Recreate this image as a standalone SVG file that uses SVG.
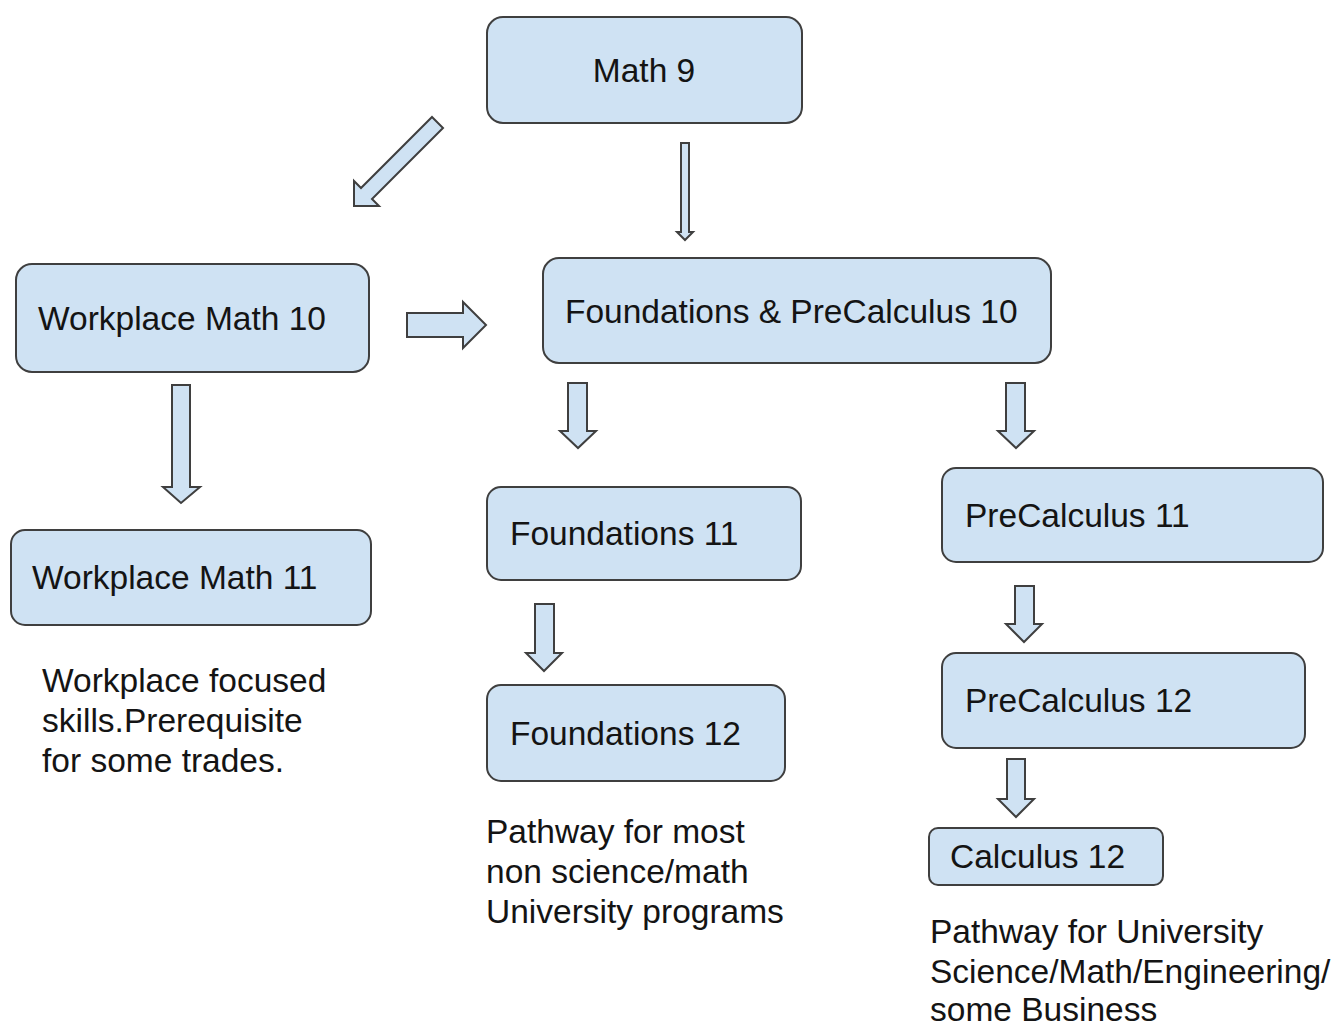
<svg xmlns="http://www.w3.org/2000/svg" width="1338" height="1025" viewBox="0 0 1338 1025">
<style>
.box{fill:#cfe2f3;stroke:#3f3f3f;stroke-width:2}
.arr{fill:#cfe2f3;stroke:#3f3f3f;stroke-width:2;stroke-linejoin:miter}
text{font-family:"Liberation Sans",Arial,sans-serif;font-size:33.5px;fill:#141414}
</style>
<rect width="1338" height="1025" fill="#ffffff"/>
<g id="math9"><rect class="box" x="487" y="17" width="315" height="106" rx="16"/><text x="644" y="82" text-anchor="middle">Math 9</text></g>
<g id="workplace10"><rect class="box" x="16" y="264" width="353" height="108" rx="16"/><text x="38" y="330">Workplace Math 10</text></g>
<g id="fp10"><rect class="box" x="543" y="258" width="508" height="105" rx="16"/><text x="565" y="323">Foundations &amp; PreCalculus 10</text></g>
<g id="workplace11"><rect class="box" x="11" y="530" width="360" height="95" rx="14"/><text x="32" y="589">Workplace Math 11</text></g>
<g id="found11"><rect class="box" x="487" y="487" width="314" height="93" rx="14"/><text x="510" y="545">Foundations 11</text></g>
<g id="found12"><rect class="box" x="487" y="685" width="298" height="96" rx="14"/><text x="510" y="745">Foundations 12</text></g>
<g id="precalc11"><rect class="box" x="942" y="468" width="381" height="94" rx="14"/><text x="965" y="527">PreCalculus 11</text></g>
<g id="precalc12"><rect class="box" x="942" y="653" width="363" height="95" rx="14"/><text x="965" y="712">PreCalculus 12</text></g>
<g id="calc12"><rect class="box" x="929" y="828" width="234" height="57" rx="9"/><text x="950" y="868">Calculus 12</text></g>
<g id="notes">
<text x="42" y="692">Workplace focused</text>
<text x="42" y="732">skills.Prerequisite</text>
<text x="42" y="772">for some trades.</text>
<text x="486" y="843">Pathway for most</text>
<text x="486" y="883">non science/math</text>
<text x="486" y="923">University programs</text>
<text x="930" y="943">Pathway for University</text>
<text x="930" y="983">Science/Math/Engineering/</text>
<text x="930" y="1021">some Business</text>
</g>
<g id="connectors">
<polygon class="arr" points="432,117 443,128 372,199 379,206 354,206 354,181 361,188"/>
<polygon class="arr" points="681,143 689,143 689,232 693,232 685,240 677,232 681,232"/>
<polygon class="arr" points="407,313 463,313 463,302 486,325 463,348 463,337 407,337"/>
<polygon class="arr" points="172,385 190,385 190,487 200,487 181,503 163,487 172,487"/>
<polygon class="arr" points="568,383 587,383 587,431 596,431 578,448 560,431 568,431"/>
<polygon class="arr" points="1006,383 1025,383 1025,431 1034,431 1016,448 998,431 1006,431"/>
<polygon class="arr" points="535,604 554,604 554,653 562,653 544,671 526,653 535,653"/>
<polygon class="arr" points="1015,586 1034,586 1034,624 1042,624 1024,642 1006,624 1015,624"/>
<polygon class="arr" points="1007,759 1025,759 1025,799 1034,799 1016,817 998,799 1007,799"/>
</g>
</svg>
